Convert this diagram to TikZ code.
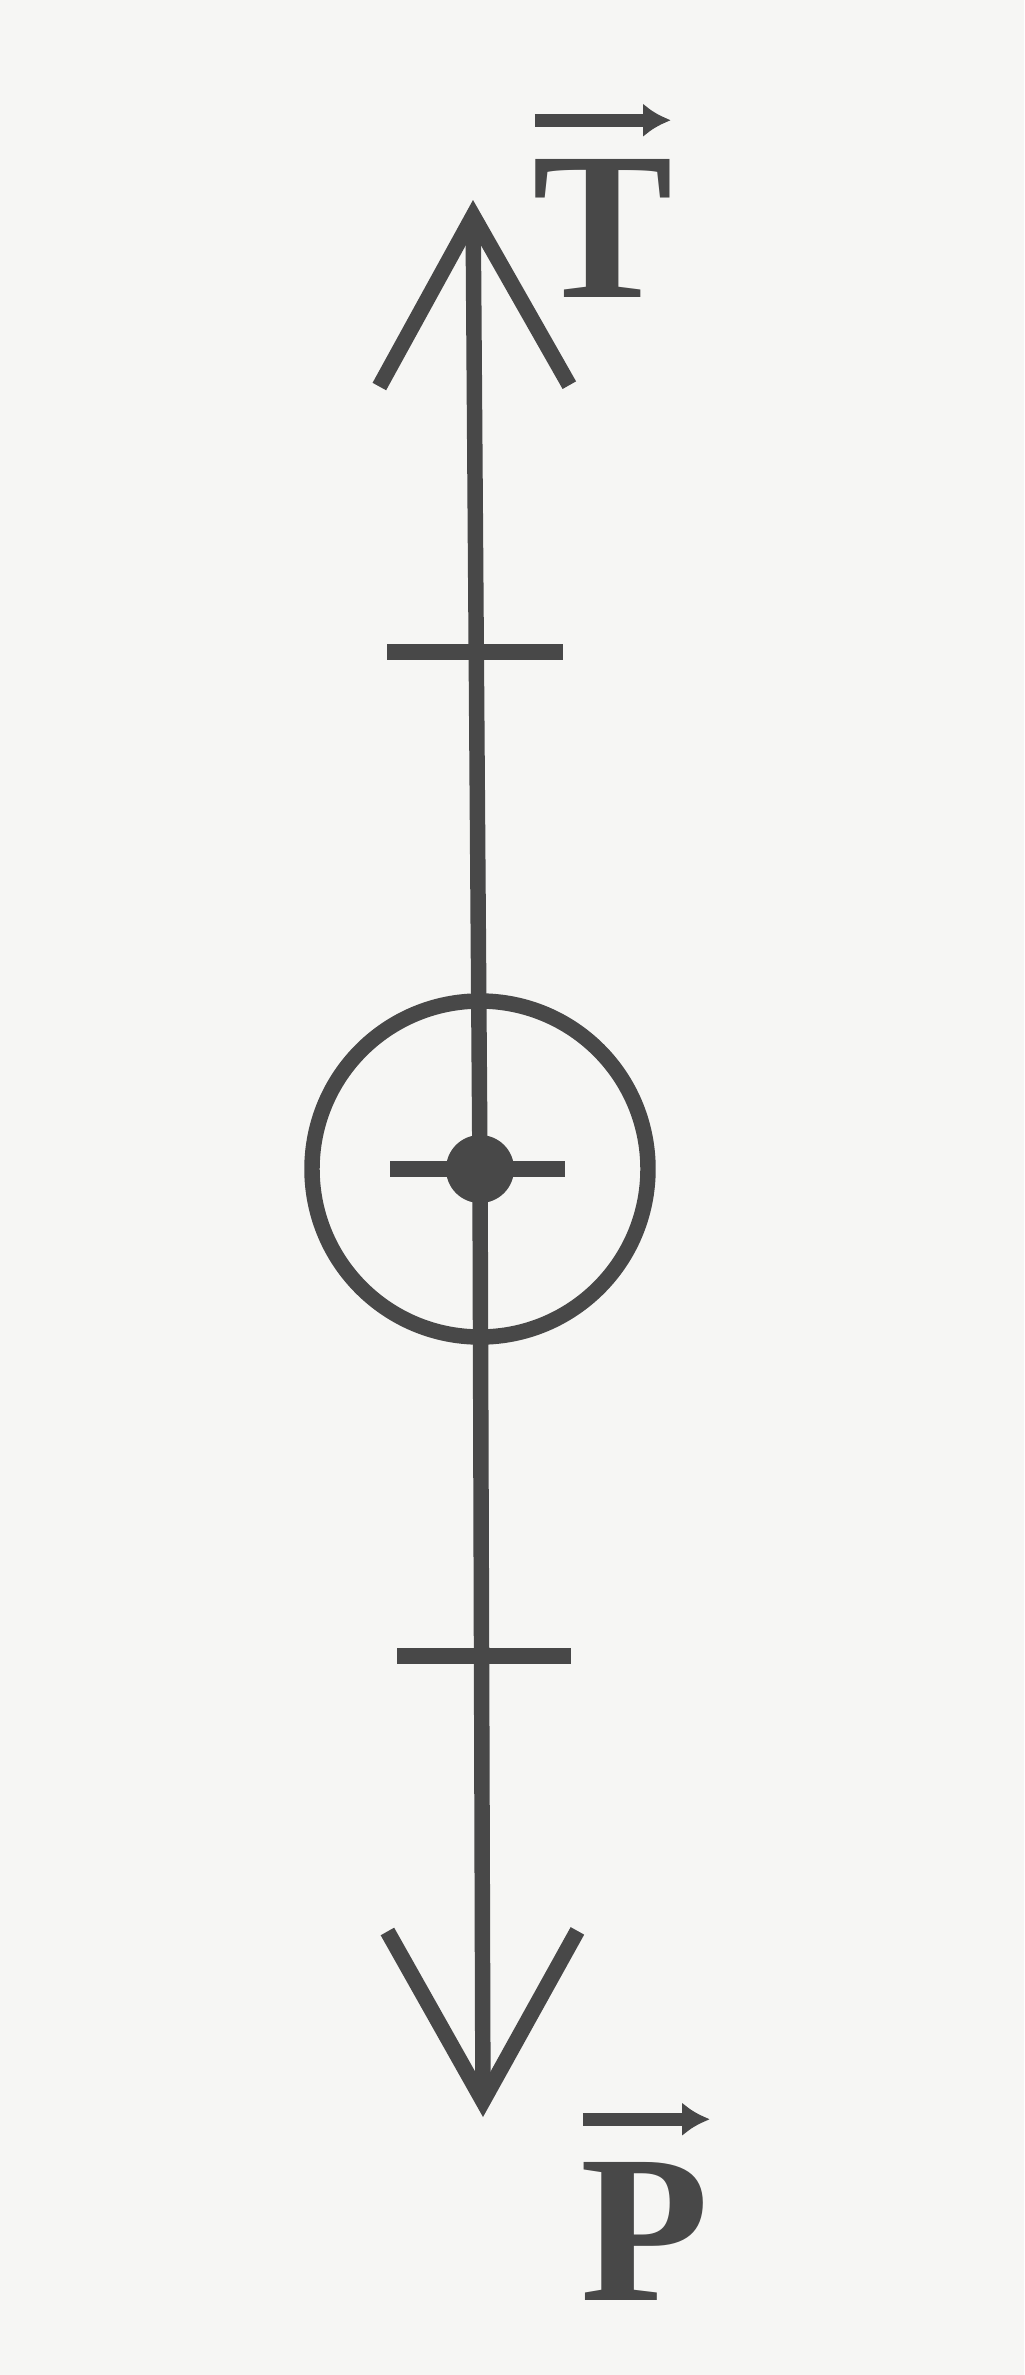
\documentclass[tikz,border=0pt]{standalone}
\usepackage{fontspec}
\setmainfont{Liberation Serif}
\usetikzlibrary{arrows.meta,positioning}
\definecolor{ink}{HTML}{484848}
\definecolor{paper}{HTML}{F6F6F4}

\begin{document}
\begin{tikzpicture}[scale=1]
  \tikzset{ f/.style={ink,line width=4.4pt,-{Straight Barb[length=17mm,width=19mm]}},
            tk/.style={ink,line width=4.4pt},
            lbl/.style={ink,inner sep=0pt,anchor=base,font=\fontsize{60}{70}\selectfont\bfseries},
            vb/.style={ink,line width=3.6pt,-{Latex[length=2.8mm,width=3.4mm]}},
  }
  \fill[paper] (0,0) rectangle (10.24,-23.75);
  \useasboundingbox (0,0) rectangle (10.24,-23.75);

  % the point the two forces act on
  \coordinate (O) at (4.80,-11.69);
  \coordinate (Ttip) at (4.73,-2.00);
  \coordinate (Ptip) at (4.83,-21.17);

  % the two forces
  \draw[f] (O) -- (Ttip);
  \draw[f] (O) -- (Ptip);

  \node[circle,draw=ink,line width=4.4pt,minimum size=3.36cm] (ring) at (O) {};
  \node[circle,fill=ink,inner sep=0pt,minimum size=0.68cm] (dot) at (O) {};

  % the tick marks on the line
  \coordinate (up1) at (3.87,-6.52);   \coordinate (up2) at (5.63,-6.52);
  \coordinate (mid1) at (3.90,-11.69); \coordinate (mid2) at (5.65,-11.69);
  \coordinate (lo1) at (3.97,-16.56);  \coordinate (lo2) at (5.71,-16.56);
  \draw[tk] (up1) -- (up2);
  \draw[tk] (mid1) -- (mid2);
  \draw[tk] (lo1) -- (lo2);

  % labels with their vector bars
  \node[lbl] (T) at (6.03,-2.97) {T};
  \node[lbl] (P) at (6.45,-23.0) {P};
  \draw[vb] ([xshift=0.03cm,yshift=0.38cm]T.north west) -- ([xshift=-0.03cm,yshift=0.38cm]T.north east);
  \draw[vb] ([xshift=0.03cm,yshift=0.42cm]P.north west) -- ([xshift=0.0cm,yshift=0.42cm]P.north east);
\end{tikzpicture}
\end{document}
